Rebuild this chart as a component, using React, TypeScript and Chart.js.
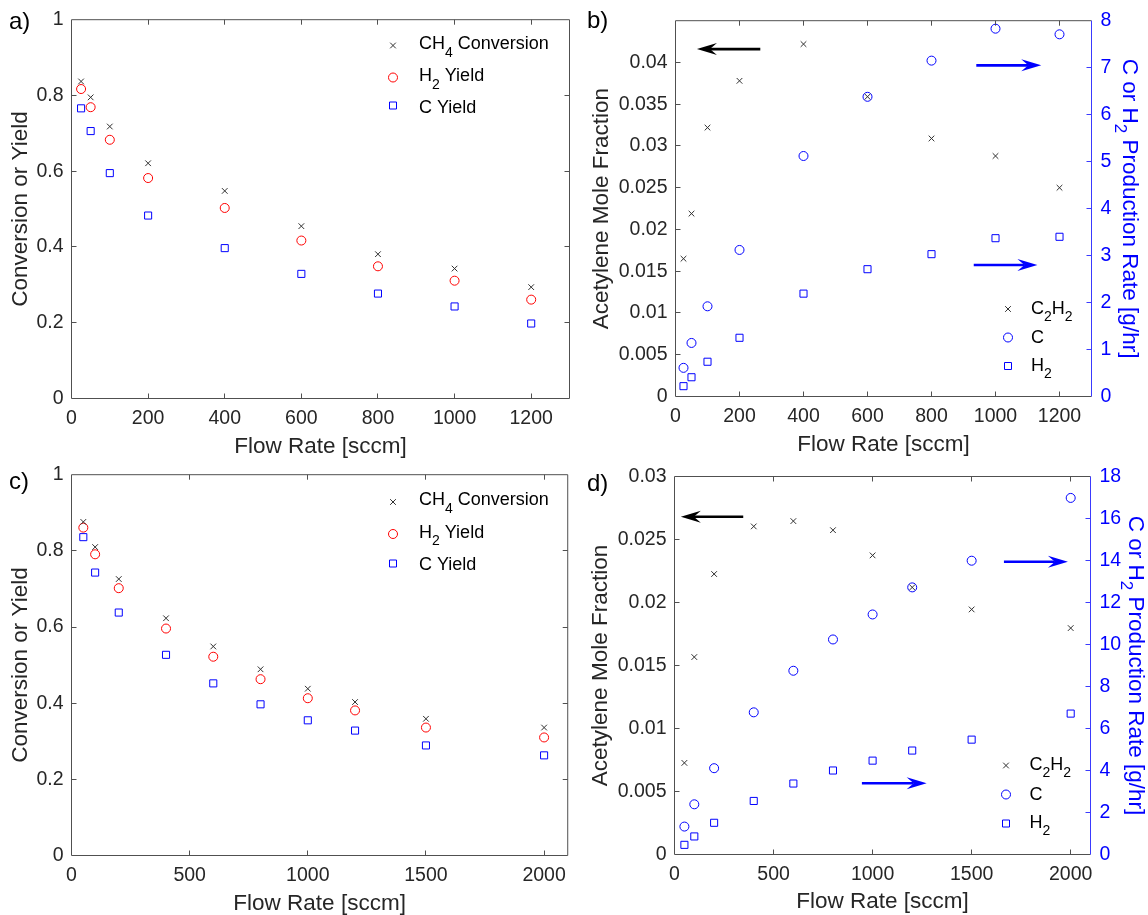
import React, { useEffect, useRef } from 'react';
import { Chart, registerables } from 'chart.js';

Chart.register(...registerables);

const FONT = "'Liberation Sans', Arial, Helvetica, sans-serif";

// ---------------- data: top row (panels a, b) ----------------
const flowRateTop = [25, 50, 100, 200, 400, 600, 800, 1000, 1200];
const ch4ConversionTop = [0.837, 0.795, 0.718, 0.621, 0.548, 0.455, 0.381, 0.343, 0.294];
const h2YieldTop = [0.817, 0.769, 0.683, 0.582, 0.503, 0.417, 0.349, 0.311, 0.261];
const cYieldTop = [0.766, 0.706, 0.595, 0.483, 0.397, 0.329, 0.277, 0.243, 0.198];
const c2h2FractionTop = [0.0165, 0.0219, 0.0322, 0.0378, 0.0422, 0.0359, 0.0309, 0.0288, 0.025];
const cRateTop = [0.61, 1.14, 1.92, 3.12, 5.12, 6.38, 7.15, 7.83, 7.71];
const h2RateTop = [0.22, 0.41, 0.74, 1.25, 2.19, 2.71, 3.03, 3.37, 3.4];

// ---------------- data: bottom row (panels c, d) ----------------
const flowRateBottom = [50, 100, 200, 400, 600, 800, 1000, 1200, 1500, 2000];
const ch4ConversionBottom = [0.876, 0.81, 0.726, 0.623, 0.549, 0.489, 0.438, 0.403, 0.359, 0.336];
const h2YieldBottom = [0.861, 0.791, 0.702, 0.596, 0.522, 0.463, 0.413, 0.381, 0.336, 0.31];
const cYieldBottom = [0.836, 0.743, 0.638, 0.527, 0.452, 0.397, 0.355, 0.328, 0.289, 0.263];
const c2h2FractionBottom = [0.00727, 0.01567, 0.02226, 0.02604, 0.02646, 0.02574, 0.02374, 0.0212, 0.01945, 0.01797];
const cRateBottom = [1.33, 2.39, 4.11, 6.77, 8.75, 10.24, 11.43, 12.72, 13.99, 16.98];
const h2RateBottom = [0.46, 0.86, 1.51, 2.55, 3.38, 4.0, 4.47, 4.95, 5.47, 6.71];

// ---------------- ticks and ranges ----------------
const flowTicksTop = [0, 200, 400, 600, 800, 1000, 1200];
const flowTicksBottom = [0, 500, 1000, 1500, 2000];
const yieldTicks = [0, 0.2, 0.4, 0.6, 0.8, 1];
const fractionTicksTop = [0, 0.005, 0.01, 0.015, 0.02, 0.025, 0.03, 0.035, 0.04];
const rateTicksTop = [0, 1, 2, 3, 4, 5, 6, 7, 8];
const fractionTicksBottom = [0, 0.005, 0.01, 0.015, 0.02, 0.025, 0.03];
const rateTicksBottom = [0, 2, 4, 6, 8, 10, 12, 14, 16, 18];

const flowRangeTop = [0, 1300];
const flowRangeBottom = [0, 2100];
const yieldRange = [0, 1];
const fractionRangeTop = [0, 0.045];
const rateRangeTop = [0, 8];
const fractionRangeBottom = [0, 0.03];
const rateRangeBottom = [0, 18];

// ---------------- arrow annotations (data units: from x, to x, level) ----------------
const arrowsB = [
  { from: 265, to: 67, level: 0.0416, axis: 'y', blue: false },
  { from: 940, to: 1143, level: 7.05, axis: 'y2', blue: true },
  { from: 932, to: 1131, level: 2.8, axis: 'y2', blue: true },
];
const arrowsD = [
  { from: 347, to: 32, level: 0.0268, axis: 'y', blue: false },
  { from: 1663, to: 1986, level: 13.94, axis: 'y2', blue: true },
  { from: 946, to: 1273, level: 3.39, axis: 'y2', blue: true },
];

// ---------------- text ----------------
type Part = [string, boolean?];
const txtCH4: Part[] = [['CH'], ['4', true], [' Conversion']];
const txtH2Yield: Part[] = [['H'], ['2', true], [' Yield']];
const txtCYield: Part[] = [['C Yield']];
const txtC2H2: Part[] = [['C'], ['2', true], ['H'], ['2', true]];
const txtC: Part[] = [['C']];
const txtH2: Part[] = [['H'], ['2', true]];
const txtRightTitle: Part[] = [['C or H'], ['2', true], [' Production Rate [g/hr]']];

// ---------------- styles ----------------
const TICK_COLOR = '#262626';
const AXIS_COLOR = '#505050';
const MARK_BLACK = '#303030';
const RED = '#ff0000';
const BLUE = '#0000ff';
const BLUE_AXIS = '#3a3aff';
const TICK_LEN = 5;

const panels: any[] = [
  {
    id: 'a',
    box: { left: 0, top: 0, width: 574, height: 458 },
    area: { left: 71.5, top: 15.5, right: 569.5, bottom: 398.5 },
    tag: { text: 'a)', x: 9, y: 22 },
    xs: flowRateTop,
    x: { range: flowRangeTop, ticks: flowTicksTop },
    y: { range: yieldRange, ticks: yieldTicks, title: 'Conversion or Yield', titleCenter: 20.5 },
    series: [
      { parts: txtCH4, data: ch4ConversionTop, marker: 'x', color: MARK_BLACK, axis: 'y' },
      { parts: txtH2Yield, data: h2YieldTop, marker: 'o', color: RED, axis: 'y' },
      { parts: txtCYield, data: cYieldTop, marker: 's', color: BLUE, axis: 'y' },
    ],
    legend: { markerX: 393, textX: 419, markerY: [45.5, 77.5, 105.5], textY: [43, 75, 107] },
    arrows: [],
  },
  {
    id: 'b',
    box: { left: 574, top: 0, width: 574, height: 456 },
    area: { left: 675.5, top: 18.5, right: 1091.5, bottom: 396.5 },
    tag: { text: 'b)', x: 587, y: 21 },
    xs: flowRateTop,
    x: { range: flowRangeTop, ticks: flowTicksTop },
    y: { range: fractionRangeTop, ticks: fractionTicksTop, title: 'Acetylene Mole Fraction', titleCenter: 602 },
    y2: { range: rateRangeTop, ticks: rateTicksTop, titleCenter: 1131.5 },
    series: [
      { parts: txtC2H2, data: c2h2FractionTop, marker: 'x', color: MARK_BLACK, axis: 'y' },
      { parts: txtC, data: cRateTop, marker: 'o', color: BLUE, axis: 'y2' },
      { parts: txtH2, data: h2RateTop, marker: 's', color: BLUE, axis: 'y2' },
    ],
    legend: { markerX: 1008, textX: 1031, markerY: [309, 337.5, 366], textY: [307.5, 336.5, 364.5] },
    arrows: arrowsB,
  },
  {
    id: 'c',
    box: { left: 0, top: 455, width: 574, height: 460 },
    area: { left: 71.5, top: 473.5, right: 569.5, bottom: 855.5 },
    tag: { text: 'c)', x: 9, y: 482 },
    xs: flowRateBottom,
    x: { range: flowRangeBottom, ticks: flowTicksBottom },
    y: { range: yieldRange, ticks: yieldTicks, title: 'Conversion or Yield', titleCenter: 20.5 },
    series: [
      { parts: txtCH4, data: ch4ConversionBottom, marker: 'x', color: MARK_BLACK, axis: 'y' },
      { parts: txtH2Yield, data: h2YieldBottom, marker: 'o', color: RED, axis: 'y' },
      { parts: txtCYield, data: cYieldBottom, marker: 's', color: BLUE, axis: 'y' },
    ],
    legend: { markerX: 393, textX: 419, markerY: [502, 534, 563.5], textY: [499, 531.5, 563.5] },
    arrows: [],
  },
  {
    id: 'd',
    box: { left: 574, top: 455, width: 574, height: 458 },
    area: { left: 674.5, top: 476.5, right: 1090.5, bottom: 854.5 },
    tag: { text: 'd)', x: 587, y: 484 },
    xs: flowRateBottom,
    x: { range: flowRangeBottom, ticks: flowTicksBottom },
    y: { range: fractionRangeBottom, ticks: fractionTicksBottom, title: 'Acetylene Mole Fraction', titleCenter: 600.5 },
    y2: { range: rateRangeBottom, ticks: rateTicksBottom, titleCenter: 1137 },
    series: [
      { parts: txtC2H2, data: c2h2FractionBottom, marker: 'x', color: MARK_BLACK, axis: 'y' },
      { parts: txtC, data: cRateBottom, marker: 'o', color: BLUE, axis: 'y2' },
      { parts: txtH2, data: h2RateBottom, marker: 's', color: BLUE, axis: 'y2' },
    ],
    legend: { markerX: 1006, textX: 1029.5, markerY: [765.5, 794.5, 823.5], textY: [763.5, 794, 821.5] },
    arrows: arrowsD,
  },
];

const TICK_FONT = { family: FONT, size: 19.5 };
const TITLE_FONT = { family: FONT, size: 22.5, lineHeight: 1 };

function setFont(ctx: CanvasRenderingContext2D, size: number) {
  ctx.font = `${size}px ${FONT}`;
}

function richWidth(ctx: CanvasRenderingContext2D, parts: Part[], size: number, subSize: number) {
  let w = 0;
  for (const [t, sub] of parts) {
    setFont(ctx, sub ? subSize : size);
    w += ctx.measureText(t).width;
  }
  return w;
}

function drawRich(
  ctx: CanvasRenderingContext2D,
  parts: Part[],
  x: number,
  baseline: number,
  size: number,
  subSize: number,
  drop: number,
  color: string
) {
  ctx.fillStyle = color;
  ctx.textAlign = 'left';
  ctx.textBaseline = 'alphabetic';
  let cx = x;
  for (const [t, sub] of parts) {
    setFont(ctx, sub ? subSize : size);
    ctx.fillText(t, cx, sub ? baseline + drop : baseline);
    cx += ctx.measureText(t).width;
  }
}

function drawMarker(ctx: CanvasRenderingContext2D, m: string, x: number, y: number, color: string) {
  ctx.strokeStyle = color;
  ctx.lineWidth = 1;
  ctx.beginPath();
  if (m === 'x') {
    const d = 2.83;
    ctx.moveTo(x - d, y - d);
    ctx.lineTo(x + d, y + d);
    ctx.moveTo(x + d, y - d);
    ctx.lineTo(x - d, y + d);
  } else if (m === 'o') {
    ctx.arc(x, y, 4.5, 0, Math.PI * 2);
  } else {
    ctx.rect(x - 3.5, y - 3.5, 7, 7);
  }
  ctx.stroke();
}

function drawArrow(ctx: CanvasRenderingContext2D, x1: number, x2: number, y: number, color: string) {
  const dir = Math.sign(x2 - x1);
  const headLen = 20;
  const headHalf = 6;
  const notch = 13;
  ctx.strokeStyle = color;
  ctx.fillStyle = color;
  ctx.lineWidth = 2.6;
  ctx.beginPath();
  ctx.moveTo(x1, y);
  ctx.lineTo(x2 - dir * notch, y);
  ctx.stroke();
  ctx.beginPath();
  ctx.moveTo(x2, y);
  ctx.lineTo(x2 - dir * headLen, y - headHalf);
  ctx.lineTo(x2 - dir * notch, y);
  ctx.lineTo(x2 - dir * headLen, y + headHalf);
  ctx.closePath();
  ctx.fill();
}

const snap = (v: number) => Math.round(v - 0.5) + 0.5;

function decorPlugin(p: any) {
  return {
    id: 'decor_' + p.id,
    afterDatasetsDraw(chart: any) {
      const ctx: CanvasRenderingContext2D = chart.ctx;
      const a = chart.chartArea;
      const sx = chart.scales.x;
      const sy = chart.scales.y;
      const sy2 = chart.scales.y2;
      const ox = p.box.left;
      const oy = p.box.top;
      ctx.save();

      // frame + inward ticks (gray)
      ctx.strokeStyle = AXIS_COLOR;
      ctx.lineWidth = 1;
      ctx.beginPath();
      for (const v of p.x.ticks) {
        const px = snap(sx.getPixelForValue(v));
        if (px <= a.left + 1 || px >= a.right - 1) continue;
        ctx.moveTo(px, a.bottom);
        ctx.lineTo(px, a.bottom - TICK_LEN);
        ctx.moveTo(px, a.top);
        ctx.lineTo(px, a.top + TICK_LEN);
      }
      for (const v of p.y.ticks) {
        const py = snap(sy.getPixelForValue(v));
        if (py <= a.top + 1 || py >= a.bottom - 1) continue;
        ctx.moveTo(a.left, py);
        ctx.lineTo(a.left + TICK_LEN, py);
        if (!sy2) {
          ctx.moveTo(a.right, py);
          ctx.lineTo(a.right - TICK_LEN, py);
        }
      }
      ctx.moveTo(a.right, a.top);
      ctx.lineTo(a.left, a.top);
      ctx.lineTo(a.left, a.bottom);
      ctx.lineTo(a.right, a.bottom);
      if (!sy2) ctx.lineTo(a.right, a.top);
      ctx.stroke();

      if (sy2) {
        ctx.strokeStyle = BLUE_AXIS;
        ctx.beginPath();
        for (const v of p.y2.ticks) {
          const py = snap(sy2.getPixelForValue(v));
          if (py <= a.top + 1 || py >= a.bottom - 1) continue;
          ctx.moveTo(a.right, py);
          ctx.lineTo(a.right - TICK_LEN, py);
        }
        ctx.moveTo(a.right, a.top);
        ctx.lineTo(a.right, a.bottom);
        ctx.stroke();

        // right axis title with subscript, rotated clockwise
        const size = 22.5;
        const subSize = 17;
        const cx = p.y2.titleCenter - ox;
        const cy = (a.top + a.bottom) / 2;
        ctx.save();
        ctx.translate(cx, cy);
        ctx.rotate(Math.PI / 2);
        const w = richWidth(ctx, txtRightTitle, size, subSize);
        drawRich(ctx, txtRightTitle, -w / 2, size * 0.358, size, subSize, 8, BLUE);
        ctx.restore();
      }

      // arrows
      for (const ar of p.arrows) {
        const scale = ar.axis === 'y2' ? sy2 : sy;
        const y = scale.getPixelForValue(ar.level);
        drawArrow(ctx, sx.getPixelForValue(ar.from), sx.getPixelForValue(ar.to), y, ar.blue ? BLUE : '#000000');
      }

      // legend
      const lg = p.legend;
      p.series.forEach((s: any, i: number) => {
        drawMarker(ctx, s.marker, lg.markerX - ox, lg.markerY[i] - oy, s.color);
        drawRich(ctx, s.parts, lg.textX - ox, lg.textY[i] - oy + 18 * 0.358, 18, 14, 7.5, '#000000');
      });

      // panel tag
      ctx.fillStyle = '#000000';
      setFont(ctx, 24);
      ctx.textAlign = 'left';
      ctx.textBaseline = 'middle';
      ctx.fillText(p.tag.text, p.tag.x - ox, p.tag.y - oy);

      ctx.restore();
    },
  };
}

function buildChart(canvas: HTMLCanvasElement, p: any) {
  const padTop = p.area.top - p.box.top;
  const yWidth = p.area.left - p.box.left;
  const rightSpace = p.box.left + p.box.width - p.area.right;
  const xHeight = p.box.top + p.box.height - p.area.bottom;
  const hasY2 = !!p.y2;

  const styleOf: any = { x: 'crossRot', o: 'circle', s: 'rect' };
  const radiusOf: any = { x: 4, o: 4.5, s: 5 };

  const datasets = p.series.map((s: any) => ({
    data: p.xs.map((x: number, i: number) => ({ x, y: s.data[i] })),
    yAxisID: s.axis,
    showLine: false,
    pointStyle: styleOf[s.marker],
    pointRadius: radiusOf[s.marker],
    pointHoverRadius: radiusOf[s.marker],
    pointBorderWidth: 1,
    pointBorderColor: s.color,
    pointBackgroundColor: 'rgba(0,0,0,0)',
  }));

  const scales: any = {
    x: {
      type: 'linear',
      position: 'bottom',
      min: p.x.range[0],
      max: p.x.range[1],
      afterBuildTicks: (s: any) => {
        s.ticks = p.x.ticks.map((v: number) => ({ value: v }));
      },
      afterFit: (s: any) => {
        s.height = xHeight;
      },
      grid: { display: false, drawTicks: false },
      border: { display: false },
      ticks: {
        autoSkip: false,
        maxRotation: 0,
        padding: 8,
        color: TICK_COLOR,
        font: TICK_FONT,
        callback: (v: number) => String(v),
      },
      title: {
        display: true,
        text: 'Flow Rate [sccm]',
        color: TICK_COLOR,
        font: TITLE_FONT,
        padding: { top: 0, bottom: 0 },
      },
    },
    y: {
      type: 'linear',
      position: 'left',
      min: p.y.range[0],
      max: p.y.range[1],
      afterBuildTicks: (s: any) => {
        s.ticks = p.y.ticks.map((v: number) => ({ value: v }));
      },
      afterFit: (s: any) => {
        s.width = yWidth;
      },
      grid: { display: false, drawTicks: false },
      border: { display: false },
      ticks: {
        autoSkip: false,
        padding: 8,
        color: TICK_COLOR,
        font: TICK_FONT,
        callback: (v: number) => String(v),
      },
      title: {
        display: true,
        text: p.y.title,
        color: TICK_COLOR,
        font: TITLE_FONT,
        padding: { top: p.y.titleCenter - p.box.left - 11.25, bottom: 0 },
      },
    },
  };

  if (hasY2) {
    scales.y2 = {
      type: 'linear',
      position: 'right',
      min: p.y2.range[0],
      max: p.y2.range[1],
      afterBuildTicks: (s: any) => {
        s.ticks = p.y2.ticks.map((v: number) => ({ value: v }));
      },
      afterFit: (s: any) => {
        s.width = rightSpace;
      },
      grid: { display: false, drawTicks: false },
      border: { display: false },
      ticks: {
        autoSkip: false,
        padding: 9,
        color: BLUE,
        font: TICK_FONT,
        callback: (v: number) => String(v),
      },
      title: { display: false },
    };
  }

  return new Chart(canvas, {
    type: 'scatter',
    data: { datasets },
    options: {
      responsive: false,
      animation: false,
      devicePixelRatio: 1,
      events: [],
      layout: {
        autoPadding: false,
        padding: { top: padTop, left: 0, bottom: 0, right: hasY2 ? 0 : rightSpace },
      },
      plugins: {
        legend: { display: false },
        tooltip: { enabled: false },
        title: { display: false },
      },
      scales,
    } as any,
    plugins: [decorPlugin(p)],
  } as any);
}

function Panel({ def }: { def: any }) {
  const ref = useRef<HTMLCanvasElement | null>(null);
  useEffect(() => {
    if (!ref.current) return;
    const chart = buildChart(ref.current, def);
    return () => chart.destroy();
  }, [def]);
  return (
    <canvas
      ref={ref}
      width={def.box.width}
      height={def.box.height}
      style={{
        position: 'absolute',
        left: def.box.left,
        top: def.box.top,
        width: def.box.width,
        height: def.box.height,
      }}
    />
  );
}

export default function App() {
  return (
    <div
      style={{
        position: 'absolute',
        left: 0,
        top: 0,
        width: 1148,
        height: 915,
        background: '#ffffff',
        overflow: 'hidden',
      }}
    >
      {panels.map((p) => (
        <Panel key={p.id} def={p} />
      ))}
    </div>
  );
}
